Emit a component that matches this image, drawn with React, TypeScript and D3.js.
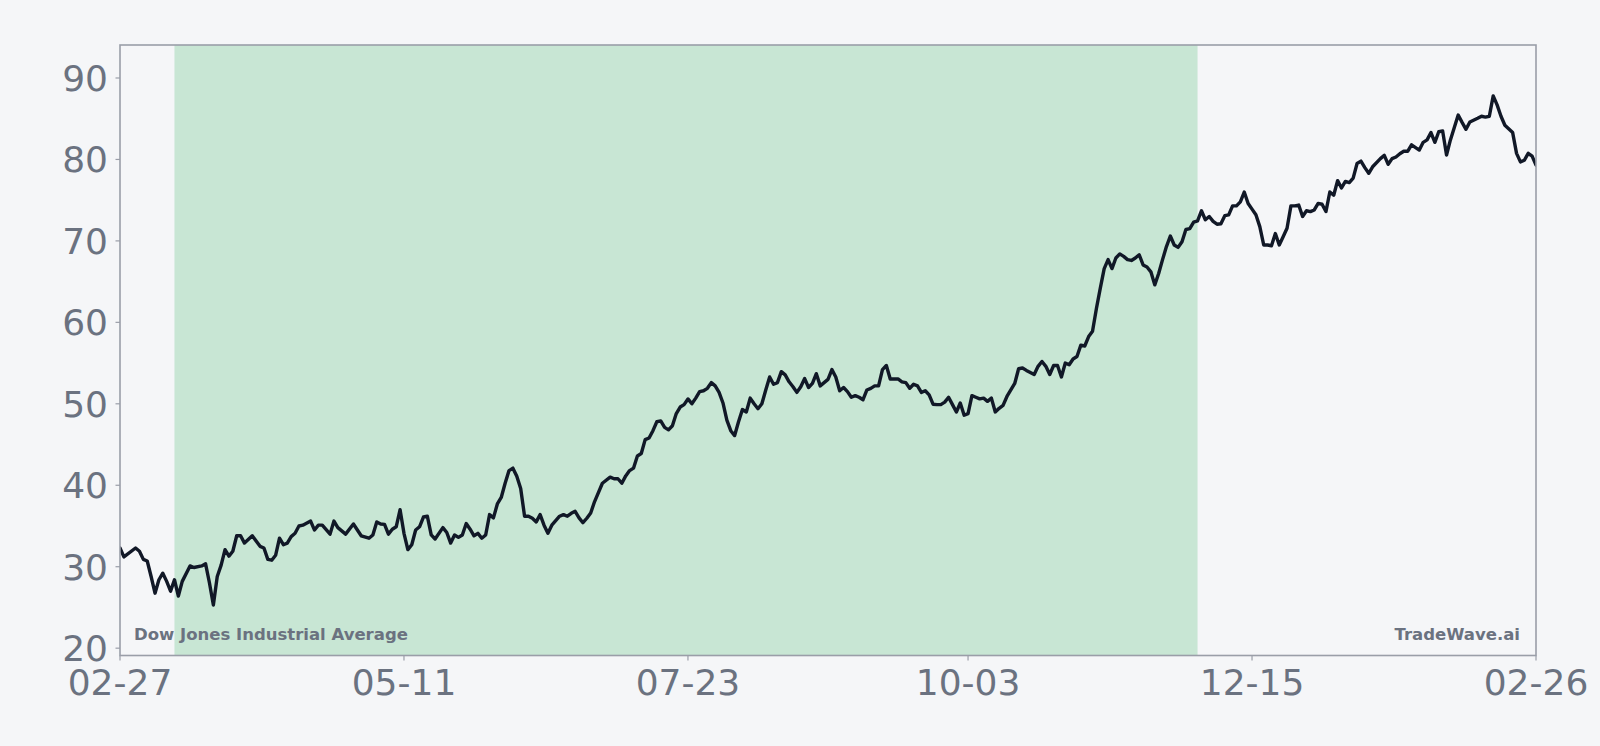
import React from 'react';
import * as d3 from 'd3';

// calendar day offsets from the first date, and the index level on that day
const startDate = '2023-02-27';
const dayOffsets = [
  0, 1, 4, 5, 6, 7, 8, 9, 10, 11, 12, 13, 14, 15, 16, 18, 19, 21, 22, 23, 24, 25, 26, 27, 28, 29,
  30, 31, 32, 34, 36, 37, 38, 39, 40, 41, 42, 43, 44, 45, 46, 47, 49, 50, 51, 52, 54, 55, 56, 58,
  60, 62, 64, 65, 66, 67, 68, 69, 70, 71, 72, 73, 74, 75, 76, 77, 78, 79, 80, 81, 83, 84, 85, 86,
  87, 88, 89, 90, 91, 92, 93, 94, 95, 96, 97, 98, 99, 100, 101, 102, 103, 104, 105, 106, 107, 108,
  109, 110, 111, 113, 114, 115, 116, 117, 118, 119, 120, 121, 122, 124, 126, 127, 128, 129, 130,
  131, 132, 133, 134, 135, 136, 137, 138, 139, 140, 141, 142, 143, 144, 145, 146, 147, 148, 149,
  150, 151, 152, 153, 154, 155, 156, 157, 158, 159, 160, 161, 162, 163, 164, 165, 166, 167, 168,
  169, 170, 171, 172, 173, 174, 175, 176, 177, 178, 179, 180, 181, 182, 183, 184, 185, 186, 187,
  188, 189, 190, 191, 192, 193, 194, 195, 196, 197, 198, 200, 201, 202, 203, 204, 205, 206, 207,
  208, 209, 210, 211, 212, 213, 214, 215, 216, 217, 218, 219, 220, 221, 222, 223, 224, 225, 226,
  227, 228, 230, 231, 232, 233, 235, 236, 237, 238, 239, 240, 241, 242, 243, 244, 245, 246, 247,
  248, 249, 250, 251, 252, 253, 254, 255, 256, 257, 258, 259, 260, 261, 262, 263, 264, 265, 266,
  267, 268, 269, 270, 271, 272, 273, 274, 275, 276, 277, 278, 279, 280, 281, 282, 283, 284, 285,
  286, 287, 288, 289, 290, 291, 292, 293, 294, 295, 296, 297, 298, 299, 300, 301, 302, 303, 304,
  305, 306, 307, 308, 309, 310, 311, 312, 313, 314, 315, 316, 317, 318, 319, 320, 321, 322, 324,
  325, 326, 327, 328, 329, 330, 331, 332, 334, 335, 336, 337, 338, 339, 340, 341, 342, 344, 345,
  346, 347, 349, 350, 351, 352, 353, 354, 355, 356, 358, 359, 360, 361, 362, 363, 364,
];
const closes = [
  32.3, 31.2, 32.3, 31.9, 30.9, 30.7, 28.8, 26.75, 28.4, 29.2, 28.2, 27.0, 28.4, 26.4, 28.2, 30.1,
  29.9, 30.1, 30.35, 28.0, 25.3, 28.8, 30.2, 32.1, 31.3, 31.9,
  33.8, 33.8, 32.9, 33.8, 32.5, 32.3, 30.9, 30.8, 31.4, 33.5, 32.7, 32.9, 33.7, 34.1, 35.0, 35.1,
  35.6, 34.5, 35.1, 35.1, 34.0, 35.6, 34.8, 34.0,
  35.25, 33.8, 33.5, 33.9, 35.5, 35.25, 35.2, 34.0, 34.6, 34.9, 37.0, 34.1, 32.1, 32.7, 34.5, 34.9,
  36.1, 36.2, 33.9, 33.4, 34.8, 34.2, 32.9, 33.9,
  33.6, 33.9, 35.3, 34.6, 33.8, 34.1, 33.5, 33.9, 36.4, 36.0, 37.7, 38.5, 40.25, 41.8, 42.1, 41.1,
  39.6, 36.2, 36.2, 35.95, 35.5, 36.4,
  35.1, 34.1, 35.1, 36.2, 36.4, 36.2, 36.55, 36.8, 36.0, 35.4, 35.95, 36.6, 38.0, 40.25, 41.0, 40.8,
  40.8, 40.25, 41.15,
  41.8, 42.1, 43.6, 43.9, 45.6, 45.8, 46.7, 47.8, 47.9, 47.1, 46.8, 47.3, 48.8, 49.6, 49.9, 50.6,
  50.0, 50.7, 51.5,
  51.6, 51.9, 52.6, 52.2, 51.4, 50.1, 48.0, 46.7, 46.1, 47.8, 49.3, 49.0, 50.7, 50.0, 49.4, 50.0,
  51.7, 53.3, 52.4,
  52.6, 53.95, 53.55, 52.7, 52.1, 51.4, 52.1, 53.1, 52.0, 52.5, 53.7, 52.2, 52.6, 53.0, 54.2, 53.3,
  51.6, 52.0, 51.5,
  50.8, 51.0, 50.8, 50.5, 51.7, 51.9, 52.2, 52.2, 54.2, 54.7, 53.05, 53.05, 52.7, 52.6, 51.9, 52.4,
  52.2, 51.4, 51.6,
  51.1, 49.95, 49.9, 49.9, 50.2, 50.8, 49.9, 49.0, 50.1, 48.6, 48.8, 51.0, 50.8, 50.6, 50.7, 50.3,
  50.7, 49.0, 49.45,
  49.8, 50.9, 52.5, 54.3, 54.4, 54.1, 53.6, 54.6, 55.2, 54.6, 53.6, 54.7, 54.7, 53.3, 55.0, 54.8,
  55.5, 55.8, 57.2,
  57.1, 58.25, 58.9, 61.7, 64.2, 66.6, 67.7, 66.6, 67.9, 68.4, 68.1, 67.7, 67.6, 67.9, 68.3, 67.05,
  66.8, 66.2, 64.6,
  66.0, 67.7, 69.3, 70.6, 69.5, 69.2, 69.9, 71.4, 71.5, 72.3, 72.45, 73.7, 72.6, 73.0, 72.4, 72.05,
  72.1, 73.1, 73.2,
  74.3, 74.3, 74.8, 76.0, 74.6, 73.9, 73.2, 71.75, 69.5, 69.5, 69.4, 70.9, 69.5, 70.5, 71.55, 74.3,
  74.3, 74.4, 73.0,
  73.7, 73.6, 73.8, 74.6, 74.5, 73.6, 76.0, 75.6, 77.4, 76.5, 77.3, 77.15, 77.7, 79.5, 79.8, 79.0,
  78.3, 79.1, 80.1,
  80.5, 79.4, 80.1, 80.3, 80.7, 81.0, 81.0, 81.8, 81.15, 82.1, 82.4, 83.3, 82.1, 83.4, 83.5, 80.55,
  82.4, 85.45, 84.55,
  83.7, 84.6, 85.05, 85.3, 85.2, 85.3, 87.8, 86.7, 85.3, 84.2, 83.3, 80.75, 79.7, 79.9, 80.75, 80.4,
  79.3,
];

const tickDates = ['2023-02-27', '2023-05-11', '2023-07-23', '2023-10-03', '2023-12-15', '2024-02-26'];
const yTicks = [20, 30, 40, 50, 60, 70, 80, 90];
const shadeRange = ['2023-03-13', '2023-12-01'];
const seriesLabel = 'Dow Jones Industrial Average';
const brandLabel = 'TradeWave.ai';

const W = 1600;
const H = 746;
const plot = { left: 120, right: 1536, top: 45, bottom: 655.5 };

const parse = d3.utcParse('%Y-%m-%d');
const fmt = d3.utcFormat('%m-%d');

export default function App() {
  const start = parse(startDate) as Date;
  const points = dayOffsets.map((d, i) => ({ date: d3.utcDay.offset(start, d), value: closes[i] }));
  const ticks = tickDates.map(t => parse(t) as Date);

  const x = d3.scaleUtc()
    .domain([ticks[0], ticks[ticks.length - 1]])
    .range([plot.left, plot.right]);
  const y = d3.scaleLinear()
    .domain([19.1, 94.05])
    .range([plot.bottom, plot.top]);

  const line = d3.line<{ date: Date; value: number }>()
    .x(d => x(d.date))
    .y(d => y(d.value));

  const s0 = x(parse(shadeRange[0]) as Date);
  const s1 = x(parse(shadeRange[1]) as Date);

  const axisColor = '#9a9ea8';
  const textColor = '#6b7280';
  const font = '"DejaVu Sans", sans-serif';

  return (
    <svg width={W} height={H} style={{ position: 'absolute', left: 0, top: 0, display: 'block' }}>
      <rect x={0} y={0} width={W} height={H} fill="#f5f6f8" />
      <defs>
        <clipPath id="plot-clip">
          <rect x={plot.left} y={plot.top} width={plot.right - plot.left} height={plot.bottom - plot.top} />
        </clipPath>
      </defs>
      <rect x={s0} y={plot.top} width={s1 - s0} height={plot.bottom - plot.top} fill="#c8e6d4" />

      <path d={line(points) ?? ''} fill="none" stroke="#111827" strokeWidth={3.4}
        strokeLinejoin="round" strokeLinecap="round" clipPath="url(#plot-clip)" />

      <text x={plot.left + 14} y={plot.bottom - 15.5} fontFamily={font} fontWeight="bold"
        fontSize={16.5} fill={textColor}>{seriesLabel}</text>
      <text x={plot.right - 16} y={plot.bottom - 15.5} fontFamily={font} fontWeight="bold"
        fontSize={16.5} fill={textColor} textAnchor="end">{brandLabel}</text>

      <rect x={plot.left} y={plot.top} width={plot.right - plot.left} height={plot.bottom - plot.top}
        fill="none" stroke={axisColor} strokeWidth={1.6} />

      {yTicks.map(t => (
        <g key={t} transform={`translate(0,${y(t)})`}>
          <line x1={plot.left - 4.5} x2={plot.left} stroke={axisColor} strokeWidth={1.2} />
          <text x={plot.left - 12} dy="0.36em" textAnchor="end" fontFamily={font}
            fontSize={36} fill={textColor}>{t}</text>
        </g>
      ))}
      {ticks.map(t => (
        <g key={+t} transform={`translate(${x(t)},0)`}>
          <line y1={plot.bottom} y2={plot.bottom + 5} stroke={axisColor} strokeWidth={1.2} />
          <text y={plot.bottom + 39.5} textAnchor="middle" fontFamily={font}
            fontSize={36} fill={textColor}>{fmt(t)}</text>
        </g>
      ))}
    </svg>
  );
}
